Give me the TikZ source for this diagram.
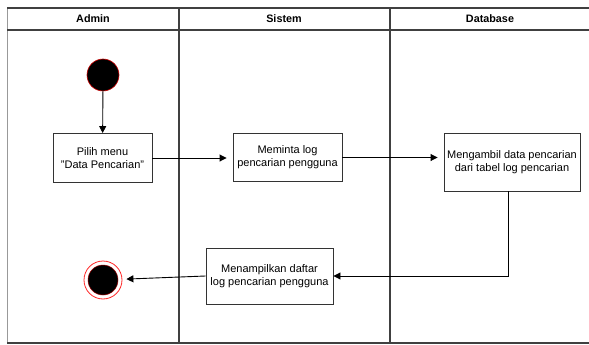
\documentclass[tikz,border=0pt]{standalone}
\usepackage{fontspec}
\setmainfont{Liberation Sans}
\usetikzlibrary{arrows.meta}
\begin{document}
\begin{tikzpicture}[x=1pt,y=-1pt,
  lane/.style={draw=black!75, line width=1.1pt},
  action/.style={draw=black!80, line width=0.9pt, fill=white, align=center,
    font=\fontsize{11}{13}\selectfont, inner sep=0pt},
  flow/.style={draw=black, line width=0.9pt, -{Triangle[length=7pt,width=7pt]}, shorten >=6pt},
  head/.style={font=\bfseries\fontsize{10.8}{12}\selectfont}]
\useasboundingbox (0,0) rectangle (589,345);
% swimlane frame
\draw[draw=black!40, line width=1pt] (7,8) -- (7,343);
\draw[lane] (7,8) -- (589,8);
\draw[lane] (7,30) -- (589,30);
\draw[lane] (7,343) -- (589,343);
\draw[lane] (179,8) -- (179,343);
\draw[lane] (390,8) -- (390,343);
\node[head] (hA) at (93,19) {Admin};
\node[head] (hS) at (284,19) {Sistem};
\node[head] (hD) at (490,19) {Database};
% initial and final states
\node[circle, fill=black, draw=red!80!black, line width=0.6pt, minimum size=32pt, inner sep=0pt] (start) at (103,75) {};
\node[circle, draw=red!85, line width=0.8pt, fill=white, minimum size=38pt, inner sep=0pt] (end) at (103,280) {};
\node[circle, fill=black, draw=red!60!black, line width=0.5pt, minimum size=30pt, inner sep=0pt] (endin) at (103,280) {};
% actions
\node[action, minimum width=99pt, minimum height=49pt] (pilih) at (102.5,158) {Pilih menu\\"Data Pencarian"};
\node[action, minimum width=109pt, minimum height=48pt] (minta) at (287.5,157.5) {Meminta log\\pencarian pengguna};
\node[action, minimum width=136pt, minimum height=58pt] (ambil) at (512,162) {Mengambil data pencarian\\dari tabel log pencarian};
\node[action, minimum width=127pt, minimum height=56pt] (tampil) at (269.5,276) {Menampilkan daftar\\log pencarian pengguna};
% control flow
\draw[flow, shorten >=0pt] (start) -- (pilih);
\draw[flow] (pilih.east) -- (pilih.east -| minta.west);
\draw[flow] (minta.east) -- (minta.east -| ambil.west);
\draw[flow, shorten >=0pt] (ambil.south -| 508,0) |- (tampil.east);
\draw[flow, shorten >=4pt] (tampil.west) -- (end);
\end{tikzpicture}
\end{document}
